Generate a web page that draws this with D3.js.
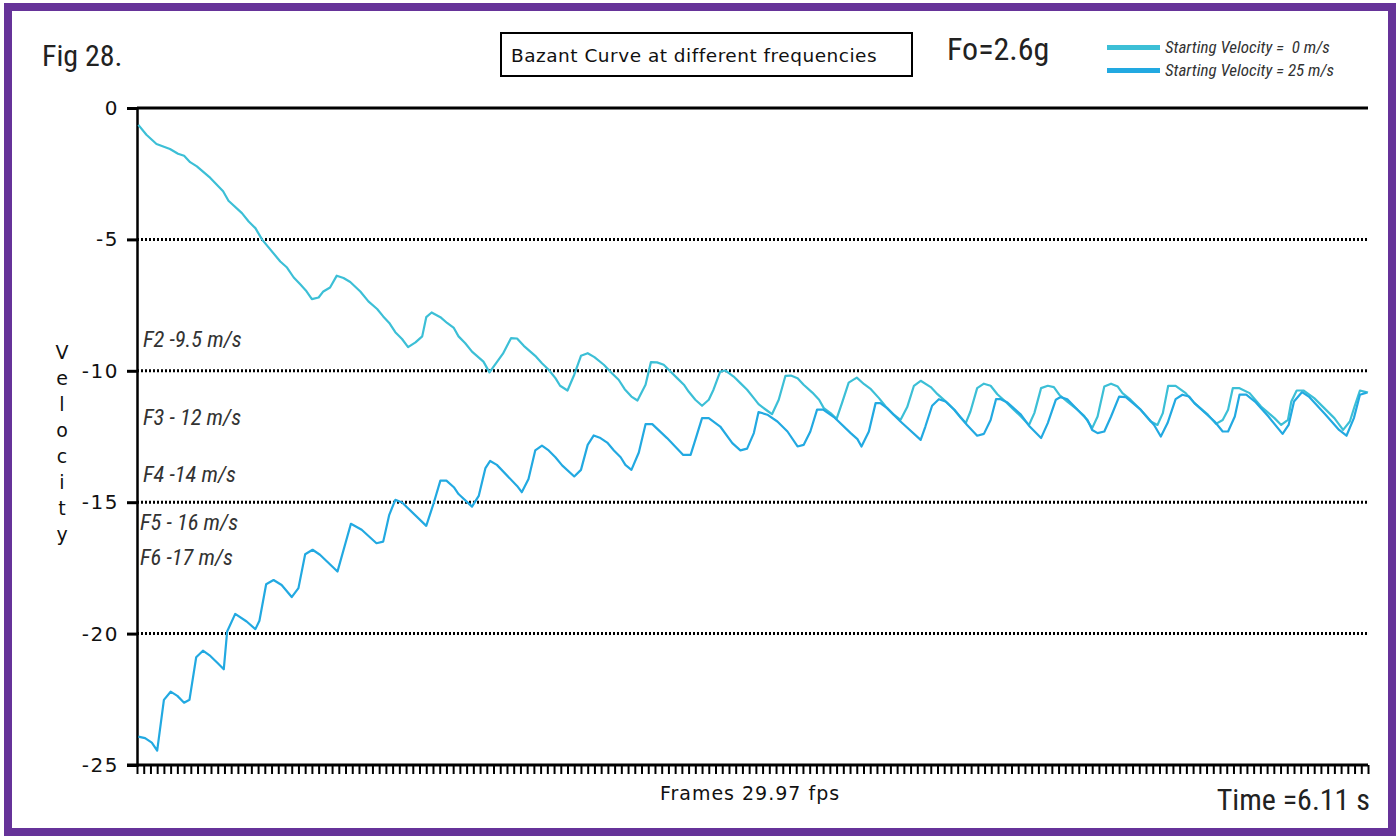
<!DOCTYPE html>
<html>
<head>
<meta charset="utf-8">
<script src="https://cdn.jsdelivr.net/npm/d3@7"></script>
<style>
  body { margin: 0; background: #fff; }
  svg { display: block; }
  .narrow { font-family: "Liberation Sans Narrow", "Arial Narrow", "Roboto Condensed", sans-serif; }
  .tick text { font-family: "DejaVu Sans", sans-serif; }
</style>
</head>
<body>
<div id="chart"></div>
<script>
// 데이터: [프레임, 속도(m/s)]
const totalFrames = 183;
const yTickValues = [0, -5, -10, -15, -20, -25];
const gridValues = [-5, -10, -15, -20];
const seriesNames = ['Starting Velocity =  0 m/s', 'Starting Velocity = 25 m/s'];
const freqLabels = ['F2 -9.5 m/s', 'F3 - 12 m/s', 'F4 -14 m/s', 'F5 - 16 m/s', 'F6 -17 m/s'];

// 시작속도 0 m/s
const start0 = [
  [0.2,-0.64],[1.4,-1.02],[2.9,-1.37],[4.9,-1.56],[6.1,-1.74],[7.0,-1.82],[7.9,-2.06],[8.9,-2.22],
  [10.9,-2.66],[12.8,-3.17],[13.6,-3.53],[15.6,-4.00],[16.6,-4.32],[17.6,-4.57],[18.6,-5.01],
  [21.3,-5.84],[22.3,-6.07],[23.3,-6.45],[24.3,-6.72],[25.1,-6.94],[26.0,-7.27],[27.0,-7.21],
  [27.7,-6.98],[28.7,-6.83],[29.7,-6.38],[30.7,-6.47],[31.7,-6.62],[33.2,-6.98],[34.4,-7.36],
  [35.7,-7.65],[36.6,-7.93],[37.5,-8.18],[38.4,-8.53],[39.4,-8.79],[40.3,-9.10],[41.4,-8.92],
  [42.4,-8.69],[43.0,-7.96],[43.8,-7.78],[45.1,-7.96],[46.1,-8.18],[47.1,-8.37],[47.8,-8.69],
  [48.8,-8.95],[49.8,-9.27],[51.5,-9.65],[52.4,-10.06],[54.4,-9.35],[55.6,-8.76],[56.5,-8.77],
  [57.5,-9.05],[59.2,-9.43],[60.2,-9.71],[61.2,-9.96],[62.2,-10.28],[62.9,-10.57],[64.0,-10.75],
  [65.0,-10.15],[66.0,-9.43],[67.0,-9.33],[68.0,-9.48],[69.4,-9.77],[70.6,-10.09],[71.6,-10.34],
  [72.5,-10.70],[73.5,-10.98],[74.4,-11.13],[75.6,-10.53],[76.4,-9.67],[77.3,-9.68],[78.3,-9.77],
  [79.3,-10.03],[80.3,-10.28],[81.3,-10.53],[82.0,-10.79],[83.0,-11.10],[84.0,-11.33],[85.0,-11.10],
  [85.7,-10.72],[86.7,-10.03],[87.5,-9.99],[88.7,-10.22],[89.7,-10.47],[90.7,-10.72],[91.7,-11.04],
  [92.4,-11.27],[93.7,-11.52],[94.4,-11.65],[95.4,-11.10],[96.4,-10.19],[97.2,-10.18],[98.2,-10.28],
  [99.1,-10.53],[100.4,-10.83],[101.4,-11.10],[102.1,-11.42],[103.1,-11.61],[104.0,-11.83],
  [104.8,-11.23],[105.8,-10.45],[107.0,-10.26],[108.1,-10.51],[109.1,-10.70],[110.3,-11.04],
  [111.3,-11.36],[112.5,-11.67],[113.5,-11.87],[114.5,-11.38],[115.5,-10.57],[116.5,-10.38],
  [118.0,-10.62],[119.0,-10.89],[120.5,-11.23],[121.5,-11.48],[122.5,-11.80],[123.2,-11.99],
  [123.9,-11.55],[124.9,-10.66],[125.9,-10.49],[126.9,-10.57],[127.9,-10.89],[129.1,-11.17],
  [130.1,-11.42],[131.4,-11.74],[132.6,-12.06],[133.4,-11.61],[134.4,-10.66],[135.4,-10.57],
  [136.3,-10.62],[137.1,-10.91],[138.3,-11.17],[139.8,-11.48],[140.8,-11.71],[142.0,-12.18],
  [142.8,-11.74],[143.8,-10.60],[144.8,-10.49],[145.8,-10.60],[146.5,-10.85],[147.7,-11.10],
  [149.2,-11.48],[150.7,-11.93],[151.7,-12.06],[152.5,-11.61],[153.3,-10.57],[154.4,-10.57],
  [155.9,-10.85],[157.2,-11.23],[159.2,-11.67],[160.4,-12.02],[161.4,-11.87],[162.2,-11.48],
  [162.9,-10.66],[163.9,-10.66],[165.4,-10.85],[167.1,-11.36],[169.1,-11.80],[170.1,-12.06],
  [171.1,-11.87],[171.6,-11.17],[172.4,-10.75],[173.4,-10.75],[175.0,-11.04],[176.5,-11.42],
  [178.0,-11.80],[179.3,-12.25],[180.3,-11.93],[181.0,-11.36],[181.8,-10.75],[183.0,-10.83]
];

// 시작속도 25 m/s
const start25 = [
  [0.2,-23.92],[1.2,-23.98],[2.2,-24.15],[3.0,-24.45],[4.0,-22.52],[5.0,-22.21],[6.0,-22.37],
  [7.0,-22.63],[7.8,-22.52],[8.8,-20.90],[9.8,-20.65],[10.9,-20.85],[11.9,-21.10],[12.9,-21.36],
  [13.4,-19.92],[14.6,-19.25],[16.3,-19.54],[17.6,-19.83],[18.2,-19.51],[19.2,-18.12],[20.3,-17.96],
  [21.5,-18.15],[23.0,-18.61],[24.0,-18.27],[25.0,-16.98],[26.1,-16.81],[27.2,-17.00],[29.8,-17.64],
  [31.8,-15.82],[33.4,-16.05],[35.6,-16.56],[36.6,-16.50],[37.5,-15.48],[38.4,-14.91],[39.4,-15.01],
  [43.0,-15.90],[44.1,-15.04],[45.1,-14.18],[46.0,-14.18],[47.1,-14.43],[47.8,-14.69],[49.8,-15.17],
  [50.8,-14.76],[51.8,-13.70],[52.5,-13.43],[53.5,-13.58],[56.5,-14.38],[57.2,-14.62],[58.2,-14.12],
  [59.2,-13.03],[60.2,-12.85],[61.2,-13.03],[62.2,-13.29],[63.2,-13.60],[65.0,-14.02],[66.0,-13.77],
  [67.0,-12.82],[67.9,-12.46],[68.9,-12.56],[69.9,-12.73],[70.9,-13.03],[71.9,-13.29],[72.6,-13.58],
  [73.5,-13.77],[74.6,-13.11],[75.6,-12.03],[76.6,-12.03],[78.8,-12.56],[81.2,-13.20],[82.3,-13.20],
  [83.0,-12.63],[84.0,-11.80],[85.0,-11.80],[86.7,-12.12],[88.5,-12.75],[89.7,-13.03],[90.7,-12.96],
  [91.7,-12.37],[92.4,-11.57],[93.7,-11.67],[95.2,-11.93],[96.7,-12.31],[98.2,-12.88],[99.1,-12.82],
  [100.1,-12.31],[101.1,-11.48],[102.0,-11.48],[103.6,-11.76],[106.1,-12.37],[107.1,-12.60],
  [107.7,-12.88],[108.8,-12.31],[109.8,-11.23],[110.5,-11.23],[111.5,-11.42],[113.5,-11.93],
  [116.5,-12.63],[117.2,-12.12],[118.2,-11.33],[119.2,-11.08],[120.2,-11.17],[121.5,-11.48],
  [123.4,-12.06],[124.9,-12.47],[125.9,-12.40],[126.9,-11.87],[127.7,-11.08],[128.4,-11.08],
  [129.4,-11.21],[131.4,-11.67],[132.6,-12.09],[134.4,-12.56],[135.4,-11.99],[136.6,-11.10],
  [137.3,-11.00],[138.3,-11.08],[141.3,-11.87],[142.0,-12.25],[142.8,-12.37],[143.8,-12.31],
  [144.8,-11.74],[146.0,-10.98],[147.0,-11.00],[149.2,-11.48],[151.2,-12.06],[152.2,-12.50],
  [153.2,-11.99],[154.4,-11.08],[155.4,-10.91],[156.4,-10.98],[157.2,-11.23],[160.2,-11.93],
  [161.4,-12.31],[162.2,-12.31],[163.2,-11.74],[163.9,-10.91],[164.9,-10.91],[166.2,-11.17],
  [168.2,-11.74],[170.3,-12.40],[171.2,-12.06],[172.0,-11.17],[173.2,-10.81],[174.2,-10.98],
  [176.7,-11.67],[178.7,-12.25],[179.8,-12.47],[180.9,-11.80],[181.8,-10.91],[182.8,-10.83]
];

const W = 1400, H = 836;
const margin = { left: 137, right: 32, top: 108, bottom: 71 };
const colors = ['#3cbfd6', '#22a9e1'];

const svg = d3.select('#chart').append('svg').attr('width', W).attr('height', H);

// 보라색 테두리
svg.append('rect')
  .attr('x', 8).attr('y', 7).attr('width', W - 16).attr('height', H - 11)
  .attr('fill', 'none').attr('stroke', '#663399').attr('stroke-width', 8);

const x = d3.scaleLinear().domain([0, totalFrames]).range([margin.left, W - margin.right]);
const y = d3.scaleLinear().domain([0, -25]).range([margin.top, H - margin.bottom]);

// 점선 격자
svg.selectAll('line.grid')
  .data(gridValues)
  .enter()
  .append('line')
  .attr('class', 'grid')
  .attr('x1', x(0)).attr('x2', x(totalFrames))
  .attr('y1', d => y(d)).attr('y2', d => y(d))
  .attr('stroke', '#000').attr('stroke-width', 3).attr('stroke-dasharray', '2,2');

// 0 기준선 (실선)
svg.append('line')
  .attr('x1', x(0)).attr('x2', x(totalFrames))
  .attr('y1', y(0)).attr('y2', y(0))
  .attr('stroke', '#000').attr('stroke-width', 3);

// y축 (하이픈 마이너스 사용)
const yAxis = svg.append('g')
  .attr('transform', `translate(${x(0)},0)`)
  .call(d3.axisLeft(y).tickValues(yTickValues).tickSize(10).tickPadding(8).tickFormat(d => String(d)));
yAxis.select('.domain').attr('stroke-width', 2.5);
yAxis.selectAll('.tick line').attr('stroke-width', 3);
yAxis.selectAll('.tick text').attr('font-size', 20).attr('fill', '#111').attr('letter-spacing', 1.5);

// x축 (프레임 눈금)
const xAxis = svg.append('g')
  .attr('transform', `translate(0,${y(-25)})`)
  .call(d3.axisBottom(x).tickValues(d3.range(0, totalFrames + 1)).tickSize(9).tickFormat(''));
xAxis.select('.domain').attr('stroke-width', 3).attr('d', `M${x(0) - 10},0H${x(totalFrames)}`);
xAxis.selectAll('.tick line').attr('stroke-width', 2);

// 곡선
const line = d3.line().x(d => x(d[0])).y(d => y(d[1]));
[start0, start25].forEach((s, i) => {
  svg.append('path')
    .datum(s)
    .attr('fill', 'none')
    .attr('stroke', colors[i])
    .attr('stroke-width', 2.2)
    .attr('stroke-linejoin', 'round')
    .attr('d', line);
});

// 주파수 라벨
const freqLabelY = [-9.1, -12.07, -14.23, -16.07, -17.4];
const freqLabelDx = [6, 6, 6, 3, 3];
svg.selectAll('text.freq')
  .data(freqLabels)
  .enter()
  .append('text')
  .attr('class', 'freq narrow')
  .attr('x', (d, i) => x(0) + freqLabelDx[i])
  .attr('y', (d, i) => y(freqLabelY[i]))
  .attr('font-size', 22.5).attr('font-style', 'italic').attr('fill', '#333')
  .text(d => d);

// Velocity 세로 라벨
svg.append('g').selectAll('text')
  .data('Velocity'.split(''))
  .enter()
  .append('text')
  .attr('x', 62).attr('y', (d, i) => 359 + i * 26)
  .attr('text-anchor', 'middle')
  .attr('font-family', 'DejaVu Sans, sans-serif').attr('font-size', 19).attr('fill', '#111')
  .text(d => d);

// 제목, 범례 등
svg.append('text').attr('class', 'narrow')
  .attr('x', 42).attr('y', 66).attr('font-size', 30).attr('fill', '#222').text('Fig 28.');

svg.append('rect')
  .attr('x', 501).attr('y', 33).attr('width', 411).attr('height', 43)
  .attr('fill', 'none').attr('stroke', '#000').attr('stroke-width', 2);
svg.append('text')
  .attr('x', 511).attr('y', 62)
  .attr('font-family', 'DejaVu Sans, sans-serif').attr('font-size', 18.5).attr('fill', '#111')
  .attr('letter-spacing', 0.5)
  .text('Bazant Curve at different frequencies');

svg.append('text').attr('class', 'narrow')
  .attr('x', 947).attr('y', 60).attr('font-size', 32).attr('fill', '#222').text('Fo=2.6g');

const legend = svg.append('g').selectAll('g')
  .data(seriesNames)
  .enter()
  .append('g')
  .attr('transform', (d, i) => `translate(1107,${47.5 + i * 23})`);
legend.append('line')
  .attr('x1', 0).attr('x2', 53)
  .attr('stroke', (d, i) => colors[i]).attr('stroke-width', 5);
legend.append('text').attr('class', 'narrow')
  .attr('x', 58).attr('y', 5)
  .attr('font-size', 17).attr('font-style', 'italic').attr('fill', '#333')
  .attr('xml:space', 'preserve')
  .style('white-space', 'pre')
  .text(d => d);

svg.append('text')
  .attr('x', 750).attr('y', 800).attr('text-anchor', 'middle')
  .attr('font-family', 'DejaVu Sans, sans-serif').attr('font-size', 19).attr('fill', '#111')
  .attr('letter-spacing', 1)
  .text('Frames 29.97 fps');

svg.append('text').attr('class', 'narrow')
  .attr('x', 1370).attr('y', 810).attr('text-anchor', 'end')
  .attr('font-size', 30).attr('fill', '#222').text('Time =6.11 s');
</script>
</body>
</html>
